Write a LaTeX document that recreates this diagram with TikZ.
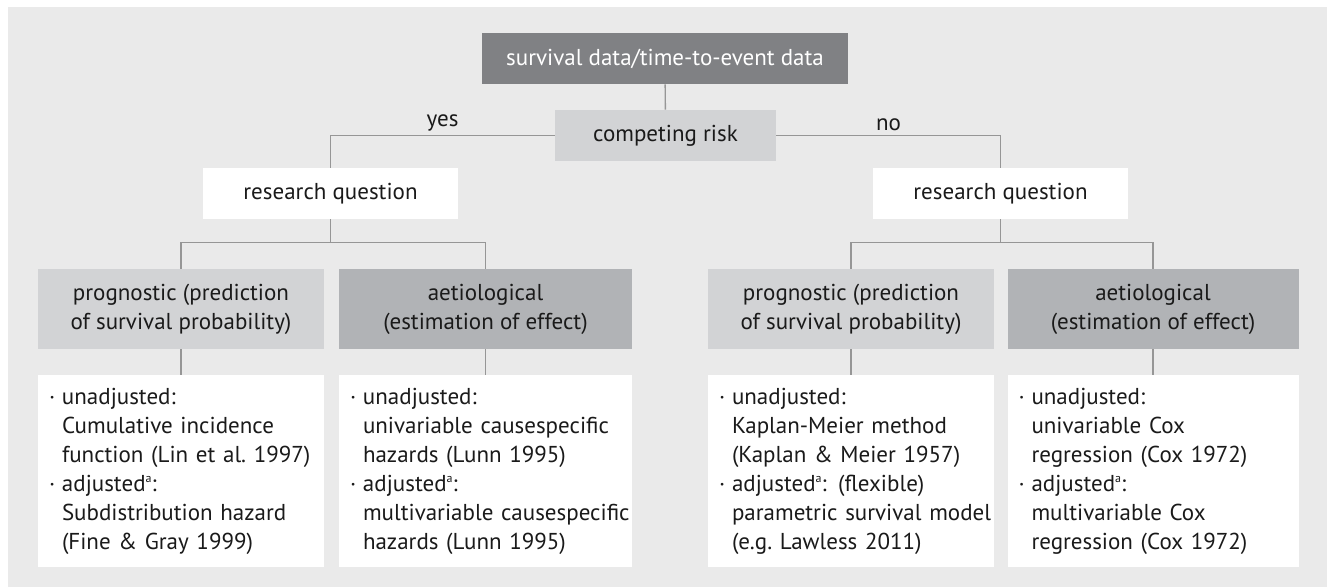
\documentclass[tikz,border=0pt]{standalone}
\usepackage{fontspec}
\setmainfont{PT Sans}
\definecolor{bggray}{HTML}{EAEAEA}
\definecolor{darkbox}{HTML}{808184}
\definecolor{lightbox}{HTML}{D2D3D5}
\definecolor{midbox}{HTML}{B1B3B6}
\definecolor{linegray}{HTML}{969696}
\definecolor{txt}{HTML}{1A1A1A}
\newcommand{\bl}[1]{\mbox{\makebox[6.5pt][l]{\textperiodcentered}#1}}
\newcommand{\il}[1]{\mbox{\hspace*{6.5pt}#1}}
\newcommand{\adj}{adjusted\raisebox{0.75ex}{\fontsize{6}{6}\selectfont a}:}

\begin{document}
\begin{tikzpicture}[x=0.5pt,y=-0.5pt,
  box/.style={inner sep=0pt, align=center, text=txt, font=\fontsize{11.5}{14.5}\selectfont},
  qbox/.style={box, minimum width=127.5pt, minimum height=25.5pt, fill=white},
  mbox/.style={box, fill=white, minimum height=96pt, align=left, inner xsep=5.5pt},
  conn/.style={draw=linegray, line width=0.7pt},
  lab/.style={text=txt, font=\fontsize{11.5}{14.5}\selectfont, inner sep=2pt},
]
  \useasboundingbox (0,0) rectangle (1327,587);
  \fill[bggray] (8,7) rectangle (1327,587);

  % top of the tree
  \node[box, fill=darkbox, text=white, minimum width=183pt, minimum height=25.5pt] (data) at (665,58.5) {survival data/time-to-event data};
  \node[box, fill=lightbox, minimum width=110.5pt, minimum height=25.5pt] (risk) at (665.5,135.5) {competing risk};
  \node[qbox] (rqL) at (330.5,193.5) {research question};
  \node[qbox] (rqR) at (1000.5,193.5) {research question};

  % question type
  \node[box, fill=lightbox, minimum width=143pt, minimum height=40pt] (progL) at (181,309) {prognostic (prediction\\of survival probability)};
  \node[box, fill=midbox, minimum width=146.5pt, minimum height=40pt] (aetL) at (485.5,309) {aetiological\\(estimation of effect)};
  \node[box, fill=lightbox, minimum width=143pt, minimum height=40pt] (progR) at (851,309) {prognostic (prediction\\of survival probability)};
  \node[box, fill=midbox, minimum width=145.5pt, minimum height=40pt] (aetR) at (1153,309) {aetiological\\(estimation of effect)};

  % methods
  \node[mbox, text width=132pt] (methL1) at (181,471) {\bl{unadjusted:}\\\il{Cumulative incidence}\\\il{function (Lin et al.\ 1997)}\\\bl{\adj}\\\il{Subdistribution hazard}\\\il{(Fine \& Gray 1999)}};
  \node[mbox, text width=135.5pt] (methL2) at (485.5,471) {\bl{unadjusted:}\\\il{univariable causespecific}\\\il{hazards (Lunn 1995)}\\\bl{\adj}\\\il{multivariable causespecific}\\\il{hazards (Lunn 1995)}};
  \node[mbox, text width=132pt] (methR1) at (851,471) {\bl{unadjusted:}\\\il{Kaplan-Meier method}\\\il{(Kaplan \& Meier 1957)}\\\bl{\adj{} (flexible)}\\\il{parametric survival model}\\\il{(e.g.\ Lawless 2011)}};
  \node[mbox, text width=134.5pt] (methR2) at (1153,471) {\bl{unadjusted:}\\\il{univariable Cox}\\\il{regression (Cox 1972)}\\\bl{\adj}\\\il{multivariable Cox}\\\il{regression (Cox 1972)}};

  % connectors
  \draw[conn] (data) -- (risk);
  \draw[conn] (risk.west) -| node[lab, pos=0.25, above] {yes} (rqL.north);
  \draw[conn] (risk.east) -| node[lab, pos=0.25, above] {no} (rqR.north);
  \draw[conn] (rqL.south) -- ++(0,24);
  \draw[conn] (progL.north) -- ++(0,-26) -| (aetL.north);
  \draw[conn] (rqR.south) -- ++(0,24);
  \draw[conn] (progR.north) -- ++(0,-26) -| (aetR.north);
  \draw[conn] (progL) -- (methL1);
  \draw[conn] (aetL) -- (methL2);
  \draw[conn] (progR) -- (methR1);
  \draw[conn] (aetR) -- (methR2);
\end{tikzpicture}
\end{document}
